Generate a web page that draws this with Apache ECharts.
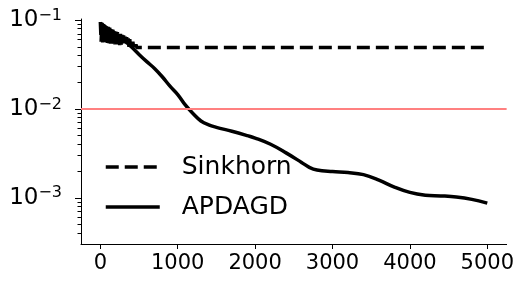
<!DOCTYPE html>
<html>
<head>
<meta charset="utf-8">
<script src="https://cdn.jsdelivr.net/npm/echarts@6/dist/echarts.min.js"></script>
<style>
  html, body { margin: 0; padding: 0; background: #fff; }
  #chart { width: 517px; height: 283px; }
</style>
</head>
<body>
<div id="chart"></div>
<script>
// iterations and errors
// Sinkhorn flips between two values during the first ~500 iterations
var sinkhornX = [0, 10, 20, 30, 40, 50, 60, 70, 80, 90, 100, 110, 120, 130, 140, 150, 160, 170, 180, 190,
  200, 210, 220, 230, 240, 250, 260, 270, 280, 290, 300, 310, 320, 330, 340, 350, 360, 370, 380, 390,
  400, 410, 420, 430, 440, 450, 460, 470, 480, 490, 550, 600, 1000, 2000, 3000, 4000, 5000];
var sinkhornY = [0.095, 0.057, 0.093, 0.056, 0.090, 0.056, 0.088, 0.055, 0.086, 0.055,
  0.084, 0.055, 0.082, 0.054, 0.080, 0.054, 0.078, 0.054, 0.076, 0.053,
  0.074, 0.053, 0.073, 0.053, 0.071, 0.052, 0.070, 0.052, 0.068, 0.052,
  0.067, 0.051, 0.065, 0.051, 0.064, 0.051, 0.062, 0.050, 0.061, 0.050,
  0.059, 0.050, 0.057, 0.0495, 0.055, 0.0495, 0.053, 0.049, 0.051, 0.049,
  0.049, 0.049, 0.049, 0.049, 0.049, 0.049, 0.049];

var apdagdX = [0, 100, 200, 300, 400, 500, 600, 700, 800, 900, 1000, 1100, 1200, 1300, 1400, 1500,
  1700, 1900, 2000, 2200, 2400, 2600, 2700, 2800, 3000, 3200, 3400, 3600, 3800, 4000, 4200, 4400,
  4600, 4800, 5000];
var apdagdY = [0.092, 0.080, 0.070, 0.060, 0.050, 0.041, 0.034, 0.0285, 0.023, 0.018, 0.0145, 0.011,
  0.0088, 0.0073, 0.0066, 0.0062, 0.0056, 0.0050, 0.0047, 0.0040, 0.0032, 0.0025, 0.0022, 0.00205,
  0.00197, 0.00192, 0.00182, 0.00158, 0.00132, 0.00115, 0.00107, 0.00105, 0.00102, 0.00096, 0.00087];

var threshold = 0.01;
var xTicks = [0, 1000, 2000, 3000, 4000, 5000];
var yTicks = [0.001, 0.01, 0.1];
var yMinorTicks = [0.0004, 0.0005, 0.0006, 0.0007, 0.0008, 0.0009,
  0.002, 0.003, 0.004, 0.005, 0.006, 0.007, 0.008, 0.009,
  0.02, 0.03, 0.04, 0.05, 0.06, 0.07, 0.08, 0.09];

function pairs(xs, ys) {
  return xs.map(function (x, i) { return [x, ys[i]]; });
}

var yMin = 0.000302, yMax = 0.1026;
var font = 'DejaVu Sans';

var chart = echarts.init(document.getElementById('chart'));
chart.setOption({
  animation: false,
  textStyle: { fontFamily: font },
  grid: { left: 81, right: 9, top: 19, bottom: 39 },
  legend: {
    orient: 'vertical',
    left: 104,
    top: 153,
    padding: 0,
    itemWidth: 54,
    itemHeight: 14,
    itemGap: 12,
    data: ['Sinkhorn', 'APDAGD'],
    itemStyle: { color: 'transparent', borderColor: 'transparent', borderWidth: 0 },
    lineStyle: { width: 3.5 },
    textStyle: { fontSize: 25, lineHeight: 28, color: '#000', fontFamily: font, padding: [0, 0, 0, 17] }
  },
  xAxis: {
    type: 'value',
    min: -250,
    max: 5250,
    splitLine: { show: false },
    axisLine: { lineStyle: { color: '#000', width: 1 } },
    axisTick: { customValues: xTicks, length: 5, lineStyle: { color: '#000' } },
    axisLabel: {
      customValues: xTicks, fontSize: 21, color: '#000', margin: 9, fontFamily: font,
      formatter: function (v) { return String(v); }
    }
  },
  yAxis: [{
    type: 'log',
    position: 'left',
    min: yMin,
    max: yMax,
    splitLine: { show: false },
    axisLine: { show: true, onZero: false, lineStyle: { color: '#000', width: 1 } },
    axisTick: { customValues: yTicks, length: 6, lineStyle: { color: '#000' } },
    axisLabel: {
      customValues: yTicks,
      margin: 19,
      color: '#000',
      formatter: function (v) {
        var e = Math.round(Math.log10(v));
        return '{b|10}{s|\u2212' + (-e) + '}';
      },
      rich: {
        b: { fontSize: 23, fontFamily: font, color: '#000' },
        s: { fontSize: 16, fontFamily: font, color: '#000', padding: [0, 0, 9, 0] }
      }
    }
  }, {
    type: 'log',
    position: 'left',
    min: yMin,
    max: yMax,
    splitLine: { show: false },
    axisLine: { show: false, onZero: false },
    axisTick: { customValues: yMinorTicks, length: 3.5, lineStyle: { color: '#000' } },
    axisLabel: { show: false }
  }],
  series: [{
    name: 'threshold',
    type: 'line',
    data: [],
    z: 1,
    markLine: {
      silent: true,
      symbol: 'none',
      label: { show: false },
      lineStyle: { color: '#ff8080', width: 2, type: 'solid' },
      data: [{ yAxis: threshold }]
    }
  }, {
    name: 'Sinkhorn',
    type: 'line',
    z: 3,
    symbol: 'none',
    data: pairs(sinkhornX, sinkhornY),
    lineStyle: { color: '#000', width: 3.5, type: [13, 6] },
    itemStyle: { color: '#000' }
  }, {
    name: 'APDAGD',
    type: 'line',
    z: 3,
    symbol: 'none',
    smooth: 0.4,
    data: pairs(apdagdX, apdagdY),
    lineStyle: { color: '#000', width: 3.5 },
    itemStyle: { color: '#000' }
  }]
});
</script>
</body>
</html>
